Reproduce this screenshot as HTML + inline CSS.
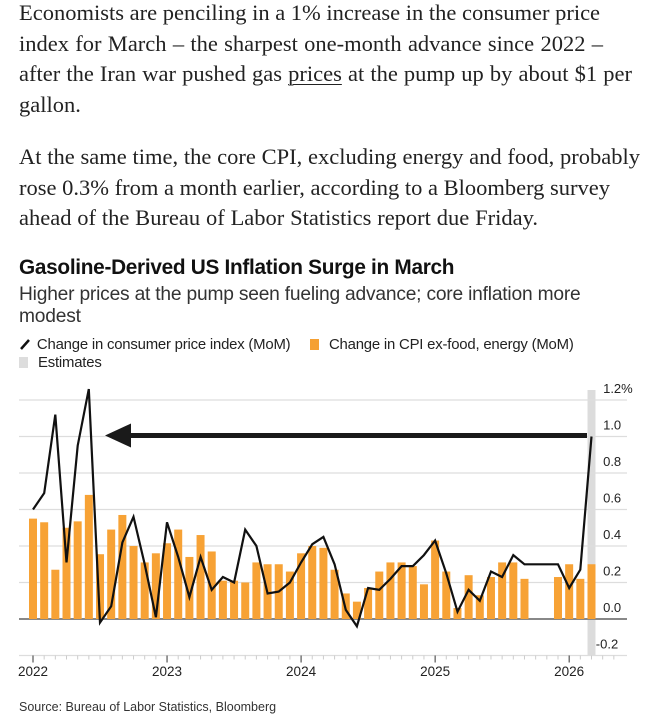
<!DOCTYPE html>
<html><head><meta charset="utf-8">
<style>
body{margin:0;width:669px;height:723px;background:#fff;overflow:hidden;position:relative;font-family:"Liberation Sans",sans-serif;color:#111}
.p{position:absolute;left:19px;font-family:"Liberation Serif",serif;font-size:22.5px;line-height:30.7px;color:#222;white-space:nowrap}
.p span{display:block;text-align:justify;text-align-last:justify}
.p u{text-decoration:underline;text-decoration-thickness:1px;text-underline-offset:3px}
#title{position:absolute;left:19px;top:256px;font-size:20.8px;font-weight:bold;letter-spacing:-0.3px}
#sub{position:absolute;left:19px;top:284px;width:600px;font-size:19.2px;line-height:22px;color:#333;letter-spacing:-0.2px}
.leg{position:absolute;font-size:14.9px;color:#222;letter-spacing:-0.2px}
#src{position:absolute;left:19px;top:700px;font-size:12.5px;color:#333}
</style></head><body>
<div class="p" style="top:-2px"><span style="width:579px">Economists are penciling in a 1% increase in the consumer price</span><span style="width:584px">index for March – the sharpest one-month advance since 2022 –</span><span style="width:613px">after the Iran war pushed gas <u>prices</u> at the pump up by about $1 per</span><span style="width:61px">gallon.</span></div>
<div class="p" style="top:142px"><span style="width:621px">At the same time, the core CPI, excluding energy and food, probably</span><span style="width:591px">rose 0.3% from a month earlier, according to a Bloomberg survey</span><span style="width:519px">ahead of the Bureau of Labor Statistics report due Friday.</span></div>
<div id="title">Gasoline-Derived US Inflation Surge in March</div>
<div id="sub">Higher prices at the pump seen fueling advance; core inflation more modest</div>
<div class="leg" style="left:19px;top:337px"><svg width="14" height="14" style="vertical-align:-2px"><line x1="2" y1="12" x2="10" y2="3" stroke="#111" stroke-width="2.5"/></svg> Change in consumer price index (MoM)</div>
<div class="leg" style="left:310px;top:337px"><span style="display:inline-block;width:9px;height:11px;background:#f5a032;vertical-align:-1px;margin-right:10px"></span>Change in CPI ex-food, energy (MoM)</div>
<div class="leg" style="left:19px;top:355px"><span style="display:inline-block;width:9px;height:11px;background:#ddd;vertical-align:-1px;margin-right:10px"></span>Estimates</div>
<svg id="chart" width="669" height="723" style="position:absolute;left:0;top:0"></svg>
<div id="src">Source: Bureau of Labor Statistics, Bloomberg</div>
<script>
const years=[2022,2023,2024,2025,2026];
const yTicks=[-0.2,0,0.2,0.4,0.6,0.8,1.0,1.2];
const yTickLabels=["-0.2","0.0","0.2","0.4","0.6","0.8","1.0","1.2%"];
// Jan 2022 .. Mar 2026 (51 months)
const headline=[0.60,0.69,1.12,0.31,0.95,1.26,-0.02,0.07,0.42,0.56,0.30,0.01,
0.53,0.34,0.12,0.34,0.16,0.23,0.20,0.49,0.40,0.14,0.15,0.20,
0.31,0.41,0.45,0.30,0.05,-0.04,0.17,0.16,0.22,0.29,0.29,0.35,
0.43,0.25,0.04,0.16,0.10,0.26,0.23,0.35,0.30,null,null,0.30,
0.17,0.27,1.00];
const core=[0.55,0.53,0.27,0.50,0.535,0.68,0.355,0.49,0.57,0.40,0.31,0.36,
0.415,0.49,0.34,0.46,0.37,0.21,0.21,0.20,0.31,0.30,0.30,0.26,
0.36,0.40,0.39,0.27,0.14,0.095,0.17,0.26,0.31,0.31,0.29,0.19,
0.43,0.26,0.06,0.24,0.13,0.23,0.31,0.31,0.22,null,null,0.23,
0.30,0.22,0.30];
const estimateIndex=[50];
const NS="http://www.w3.org/2000/svg";
const svg=document.getElementById('chart');
const x0=33,pxMonth=11.17,y0=619,pxUnit=182.5;
const X=i=>x0+i*pxMonth;
const Y=v=>y0-v*pxUnit;
function mk(t,a){const e=document.createElementNS(NS,t);for(const k in a)e.setAttribute(k,a[k]);svg.appendChild(e);return e;}
estimateIndex.forEach(i=>{const r=mk('rect',{x:X(i)-4,y:390,width:8,height:266,fill:'#dcdcdc'});

});
yTicks.forEach((v,k)=>{
 const g=mk('line',{x1:19,x2:627,y1:Y(v),y2:Y(v),stroke:v===0?'#888':'#ddd','stroke-width':v===0?2:1.2});
 
 
 const t=mk('text',{x:625,y:Y(v)-7,'font-size':'13','font-family':'Liberation Sans, sans-serif',fill:'#222'});
 
 
 t.textContent=yTickLabels[k];
 t.setAttribute('x',625-(yTickLabels[k].replace('%','').length*7.3));
});
core.forEach((v,i)=>{if(v===null)return;
 const b=mk('rect',{x:X(i)-4,y:Math.min(Y(v),y0),width:8,height:Math.abs(Y(v)-y0),fill:'#f7a235'});
 
 });
const axY=Y(-0.2);
for(let i=0;i<=52;i++){const isY=i%12===0;
 const t=mk('line',{x1:X(i),x2:X(i),y1:axY,y2:axY+(isY?7:4),stroke:isY?'#333':'#ccc','stroke-width':1});
 
 }
years.forEach((yr,k)=>{const t=mk('text',{x:X(k*12),y:676,'text-anchor':'middle','font-size':'13.5','font-family':'Liberation Sans, sans-serif',fill:'#222'});
 
 
 t.textContent=yr;});
let d='';headline.forEach((v,i)=>{if(v===null)return;d+=(d?'L':'M')+X(i).toFixed(1)+','+Y(v).toFixed(1);});
const ln=mk('path',{d:d,fill:'none',stroke:'#111','stroke-width':2.2,'stroke-linejoin':'miter'});


const ay=Y(headline[50])-1;
const sh=mk('line',{x1:128,x2:587,y1:ay,y2:ay,stroke:'#1a1a1a','stroke-width':5});


const hd=mk('polygon',{points:`105,${ay} 131,${ay-12} 131,${ay+12}`,fill:'#1a1a1a'});


</script>
</body></html>
